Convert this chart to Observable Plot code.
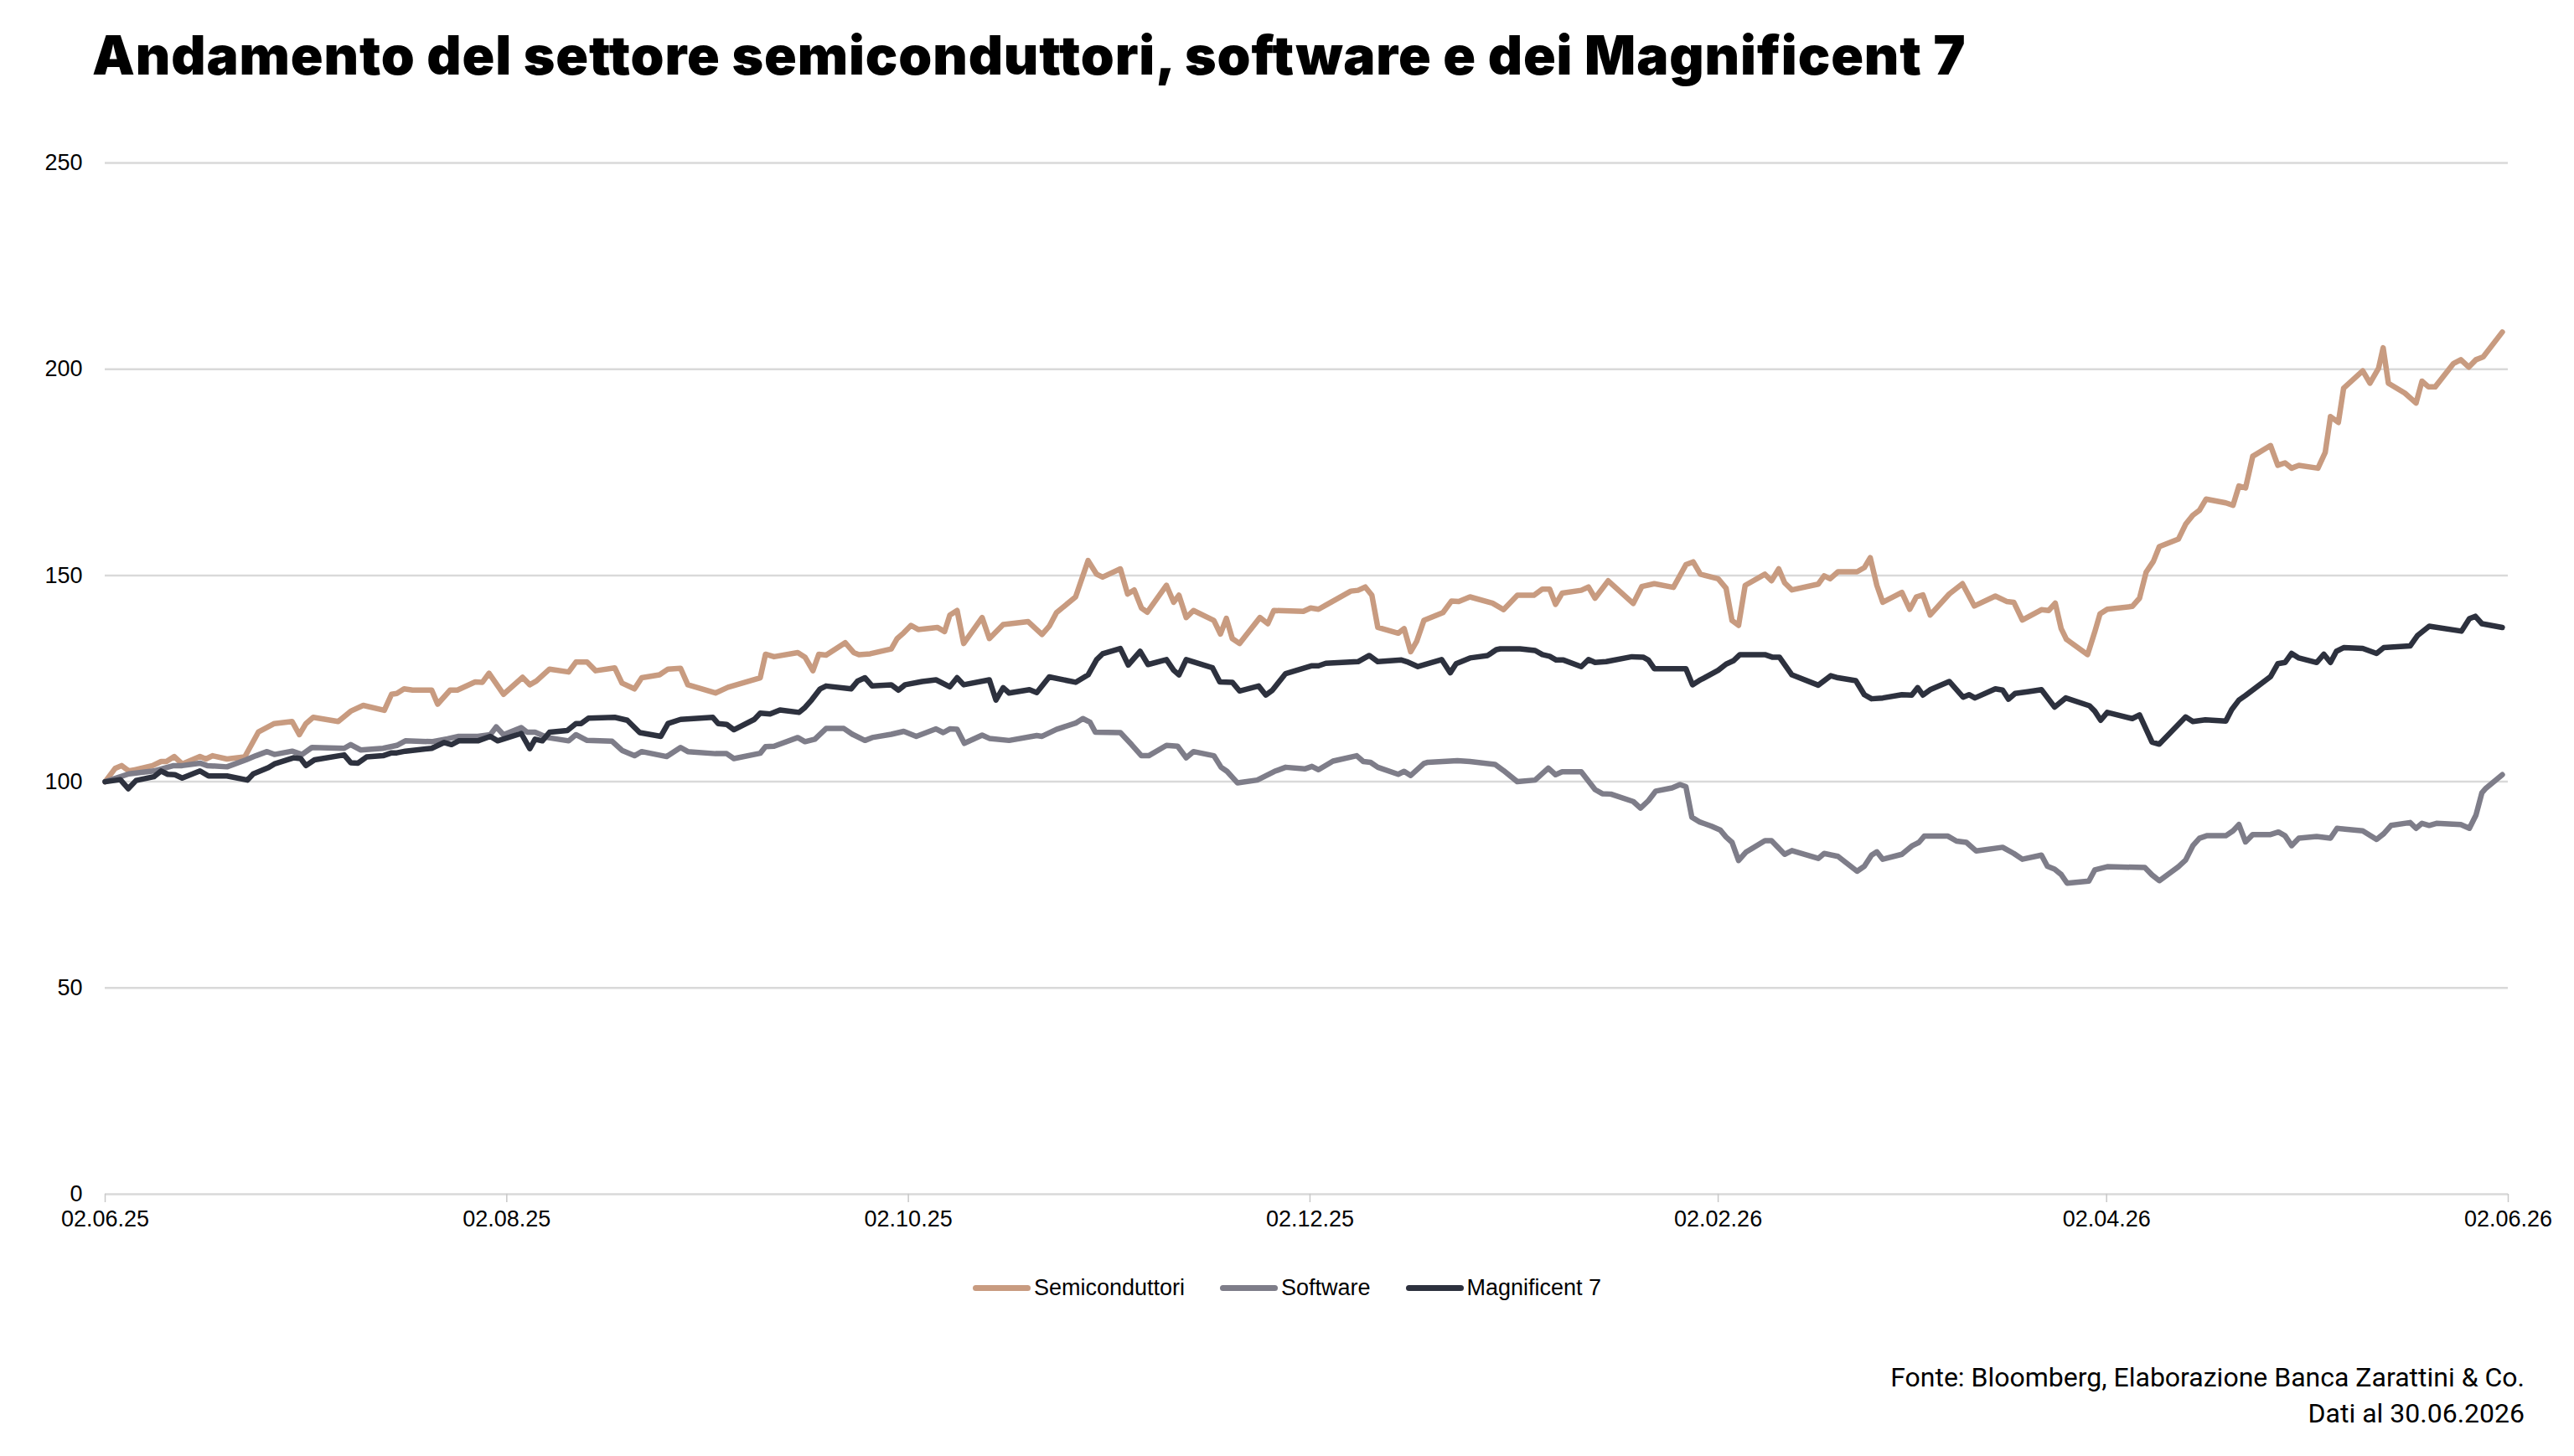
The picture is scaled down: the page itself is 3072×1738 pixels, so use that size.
<!DOCTYPE html>
<html>
<head>
<meta charset="utf-8">
<script src="https://cdn.jsdelivr.net/npm/d3@7"></script>
<script src="https://cdn.jsdelivr.net/npm/@observablehq/plot@0.6"></script>
<style>
  html, body { margin: 0; padding: 0; background: #fff; }
  #page { position: relative; width: 3072px; height: 1738px; overflow: hidden; background: #fff; }
  #title { position: absolute; left: 110px; top: 34px; font-family: Inter, "Liberation Sans", sans-serif; font-weight: 900; font-size: 64px; line-height: 1; color: #000; white-space: nowrap; letter-spacing: 0.9px; }
  #chart { position: absolute; left: 0; top: 0; }
  #legend { position: absolute; left: 0; top: 1517px; width: 3072px; height: 40px; display: flex; align-items: center; justify-content: center; font-family: "Liberation Sans", Arial, sans-serif; font-size: 27px; color: #000; }
  .item { display: flex; align-items: center; margin: 0 21px; }
  .sw { width: 69px; height: 7px; border-radius: 4px; margin-right: 4px; }
  #footer { position: absolute; right: 59px; top: 1623px; text-align: right; font-family: Roboto, "Liberation Sans", sans-serif; font-size: 32px; line-height: 43px; color: #000; }
</style>
</head>
<body>
<div id="page">
  <div id="chart"></div>
  <div id="title"></div>
  <div id="legend"></div>
  <div id="footer"></div>
</div>
<script>
const titleText = "Andamento del settore semiconduttori, software e dei Magnificent 7";
const footerLines = ["Fonte: Bloomberg, Elaborazione Banca Zarattini & Co.", "Dati al 30.06.2026"];
const seriesNames = ["Semiconduttori", "Software", "Magnificent 7"];
const seriesColors = ["#C89B80", "#7E7D89", "#2D313E"];
const startDate = "2025-06-02";
const endDate = "2026-06-02";
const xTickDates = ["2025-06-02", "2025-08-02", "2025-10-02", "2025-12-02", "2026-02-02", "2026-04-02", "2026-06-02"];
const yTicks = [0, 50, 100, 150, 200, 250];

// days elapsed since startDate, and index values (start = 100)
const semiDays = [0,1.5,2.5,3.6,4.5,7.2,8.5,9.3,10.5,11.7,14.4,15.3,16.3,18.5,21.2,23.3,25.7,28.4,29.5,30.5,31.6,35.4,37.3,39.2,42.4,43.5,44.3,45.4,46.7,49.6,50.5,52.4,53.5,56.2,57.3,58.3,60.5,63.4,
64.5,65.5,67.5,70.4,71.5,73.2,74.5,77.4,78.5,80.4,81.5,84.2,85.5,87.4,88.5,92.7,94.6,99.5,100.3,101.6,105.2,106.3,107.5,108.4,109.5,112.4,113.7,114.5,116.2,119.4,120.3,121.3,122.4,123.5,
126.4,127.5,128.3,129.4,130.4,133.2,134.3,136.4,140.2,142.3,143.4,144.5,147.4,149.3,150.6,151.5,154.2,155.3,156.3,157.4,158.3,161.2,162.3,163.1,164.2,165.3,168.4,169.4,170.3,171.2,172.3,175.4,176.6,177.5,182.0,183.1,184.3,185.4,
189.2,190.3,191.4,192.4,193.3,196.4,197.3,198.3,199.2,200.3,203.2,204.5,205.6,207.3,210.7,212.4,214.5,217.0,218.3,219.4,220.3,221.3,224.2,225.3,226.3,228.3,232.1,233.4,235.3,238.2,240.1,241.2,242.3,245.0,
246.2,247.1,248.1,249.1,252.1,253.1,254.2,255.1,256.2,260.2,261.1,262.0,263.2,266.1,267.2,268.1,269.1,270.0,272.9,274.1,275.1,276.1,277.2,280.1,282.1,283.9,287.1,288.8,289.9,291.2,294.1,295.2,296.2,297.1,297.9,301.1,
302.2,303.0,304.1,307.9,309.0,310.0,311.1,312.0,314.9,316.0,317.1,318.1,319.1,322.1,323.2,324.1,325.1,326.2,328.9,330.0,331.1,332.1,333.2,336.1,337.2,338.0,339.2,340.0,342.9,344.0,345.3,346.0,346.8,349.3,351.0,351.9,352.9,353.9,356.7,357.8,359.0,360.1,361.2,364.1];
const semiValues = [100,103.2,103.9,102.6,102.9,103.9,104.9,104.9,106.1,104.3,106.1,105.5,106.3,105.5,106.0,112.1,114.1,114.6,111.4,114.1,115.6,114.6,117.1,118.5,117.3,121.2,121.4,122.5,122.2,122.2,118.8,122.2,122.2,124.2,124.1,126.3,121.2,125.3,
123.5,124.4,127.3,126.6,129.0,129.0,126.9,127.6,123.9,122.5,125.2,125.9,127.3,127.5,123.5,121.5,122.9,125.2,130.9,130.3,131.3,130.2,126.9,130.9,130.7,133.7,131.3,130.8,131.0,132.2,134.7,136.1,137.9,136.9,
137.4,136.4,140.4,141.5,133.5,139.8,134.7,138.1,138.8,135.7,137.7,141.0,144.8,153.6,150.3,149.6,151.6,145.5,146.5,142.1,141.1,147.6,143.5,145.2,139.8,141.5,139.1,135.8,139.6,134.7,133.5,139.8,138.3,141.5,141.3,142.1,141.8,142.8,
146.2,146.4,147.2,145.2,137.4,136.0,137.1,131.5,134.0,139.1,141.0,143.8,143.7,144.8,143.3,141.7,145.2,145.2,146.7,146.7,143.0,145.7,146.4,147.2,144.5,148.7,143.2,147.3,148.0,147.1,152.6,153.3,150.3,149.2,
146.9,139.1,137.9,147.6,150.3,148.7,151.6,148.2,146.5,147.9,149.9,149.2,150.9,150.9,151.9,154.3,147.6,143.5,145.9,141.8,144.8,145.3,140.4,145.5,148.0,142.6,145.0,143.7,143.5,139.2,141.7,141.5,143.3,137.1,134.5,130.8,
136.3,140.7,141.8,142.5,144.5,150.8,153.4,157.0,158.8,162.4,164.6,165.8,168.5,167.6,167.0,171.7,171.2,178.9,181.5,176.7,177.3,176.0,176.7,176.0,179.8,188.5,187.1,195.4,199.6,196.6,200.2,205.2,196.6,194.2,191.8,197.1,195.7,195.7,201.4,202.3,200.5,202.3,203.0,209.0];

const softDays = [0,3.6,7.4,10.4,11.7,14.4,15.5,18.5,21.4,22.9,24.6,25.7,28.4,29.9,31.4,36.3,37.3,38.8,42.2,44.3,45.6,49.6,52.0,53.7,56.6,58.5,59.4,60.5,63.2,
64.1,65.3,67.2,70.4,71.5,73.2,77.0,78.5,80.4,81.5,85.3,87.4,88.5,92.7,94.4,95.5,99.5,100.3,101.6,105.2,106.3,107.8,109.5,112.2,113.5,115.4,116.5,119.4,121.3,123.2,
126.2,127.3,128.3,129.4,130.5,133.2,134.3,137.3,141.5,142.3,144.5,147.4,148.5,149.6,150.4,154.2,155.9,157.4,158.5,161.2,162.9,164.2,165.3,168.4,169.5,170.4,172.0,175.0,177.6,179.3,182.2,183.3,184.3,
186.5,190.1,191.1,192.2,193.3,196.4,197.3,198.3,200.3,200.9,205.4,207.3,211.1,212.4,214.5,217.2,219.2,220.3,221.3,224.2,226.3,227.4,228.7,232.1,233.2,234.4,235.5,238.0,239.2,240.1,241.0,242.1,244.0,245.3,
246.2,247.1,248.1,249.2,252.1,253.1,255.1,256.2,260.2,261.1,263.2,266.1,267.2,268.3,269.1,270.0,272.9,274.4,275.5,276.3,279.9,281.2,282.7,284.2,288.2,289.9,291.2,294.1,295.0,296.1,297.1,298.0,301.3,
302.2,304.1,309.8,310.9,312.0,314.9,316.0,317.1,318.1,319.2,322.1,323.2,324.1,325.1,326.2,328.9,330.1,331.1,332.1,333.2,335.9,338.0,339.0,340.2,342.9,345.0,346.1,347.2,350.1,351.0,351.9,353.0,354.1,357.8,359.1,360.1,361.0,361.6,364.1];
const softValues = [100,101.9,102.6,103.9,103.9,104.5,103.9,103.6,105.3,106.3,107.3,106.6,107.4,106.6,108.3,108.1,109.0,107.7,108.1,108.8,109.9,109.7,110.4,111.0,111.0,111.4,113.3,111.4,113.1,
112.0,112.0,110.7,109.9,111.4,110.0,109.8,107.6,106.3,107.3,106.1,108.3,107.3,106.8,106.8,105.6,106.9,108.5,108.6,110.7,109.7,110.3,112.9,112.9,111.5,110.0,110.7,111.5,112.2,111.0,
112.8,111.9,112.8,112.7,109.3,111.3,110.5,110.0,111.2,111.0,112.7,114.2,115.3,114.4,112.0,111.9,109.0,106.3,106.3,108.8,108.6,105.8,107.3,106.3,103.5,102.5,99.7,100.4,102.5,103.5,103.1,103.7,102.9,
105.0,106.3,104.9,104.7,103.5,101.8,102.5,101.5,104.4,104.7,105.1,104.9,104.2,102.7,100.0,100.4,103.3,101.7,102.4,102.4,98.1,97.1,97.0,95.2,93.6,95.4,97.7,98.5,99.3,98.8,91.4,90.3,89.2,88.3,
86.6,85.3,80.9,82.9,85.7,85.7,82.4,83.3,81.4,82.6,81.9,78.3,79.5,82.2,83.0,81.2,82.4,84.4,85.3,86.8,86.8,85.6,85.3,83.2,84.1,82.6,81.2,82.2,79.5,78.8,77.5,75.4,75.9,
78.6,79.4,79.2,77.4,76.0,79.4,81.0,84.5,86.3,86.9,86.9,88.1,89.6,85.4,87.2,87.2,87.8,86.9,84.5,86.3,86.7,86.3,88.7,88.5,88.1,86.0,87.4,89.4,90.1,88.7,89.9,89.4,89.9,89.6,88.7,91.9,97.3,98.4,101.7];

const magDays = [0,2.3,3.5,4.7,7.4,8.5,9.5,10.6,11.7,14.4,15.7,18.5,21.6,22.5,24.8,25.7,28.6,29.7,30.5,31.8,36.3,37.3,38.4,39.7,42.2,43.5,44.3,45.6,49.6,51.5,52.6,53.7,56.6,58.5,59.6,63.2,
64.5,65.3,66.4,67.5,70.2,71.5,72.3,73.4,77.4,79.3,81.2,84.4,85.5,87.4,92.3,93.1,94.4,95.5,98.6,99.5,101.0,102.5,105.4,106.3,107.3,108.6,109.5,113.3,114.3,115.4,116.5,119.4,120.5,121.5,
124.1,126.2,128.3,129.4,130.4,134.3,135.3,136.4,137.3,140.4,141.5,143.4,147.4,149.3,150.6,151.5,154.2,155.4,157.2,158.4,161.2,162.3,163.1,164.2,168.2,169.3,171.2,172.3,175.2,176.3,177.3,179.3,183.3,184.3,
185.4,190.3,192.0,193.3,196.9,197.7,199.4,203.0,204.3,205.2,207.3,210.0,211.3,211.9,214.9,217.2,218.3,219.4,220.4,221.5,224.2,225.3,226.3,228.0,231.9,233.6,234.4,235.3,240.1,241.1,242.1,245.0,
246.2,247.3,248.3,252.1,253.2,254.3,256.2,260.2,262.1,263.2,265.9,267.2,268.3,270.0,272.9,274.4,275.3,276.1,277.2,280.1,282.2,283.1,284.0,287.1,288.2,289.1,290.1,292.0,294.1,296.1,297.8,301.4,
302.2,303.1,304.1,307.9,309.0,310.9,312.0,316.0,317.1,319.0,322.1,323.0,324.1,325.1,327.0,328.9,330.0,331.1,332.1,333.2,335.9,337.0,338.0,338.9,340.0,342.9,345.0,346.1,350.1,351.2,353.0,357.9,359.1,360.0,361.0,364.1];
const magValues = [100,100.5,98.3,100.3,101.2,102.6,101.8,101.7,100.9,102.6,101.4,101.4,100.4,101.9,103.4,104.3,105.8,105.6,103.9,105.3,106.5,104.6,104.5,106.0,106.3,107.0,107.0,107.4,108.1,109.5,109.0,109.9,109.9,111.0,109.9,111.7,
108.0,110.3,109.9,112.0,112.4,114.1,114.1,115.4,115.6,114.9,111.9,111.0,114.1,115.1,115.6,114.1,113.9,112.6,115.1,116.6,116.4,117.4,116.8,118.0,119.8,122.5,123.2,122.5,124.4,125.2,123.2,123.5,122.2,123.5,
124.3,124.7,123.0,125.2,123.5,124.7,119.8,122.8,121.5,122.3,121.6,125.4,124.1,125.9,129.6,131.0,132.3,128.3,131.6,128.4,129.6,127.0,125.9,129.6,127.6,124.2,124.1,122.0,123.2,121.0,122.2,126.2,128.1,128.1,
128.7,129.1,130.6,129.1,129.5,129.1,127.9,129.6,126.4,128.6,130.0,130.6,132.0,132.2,132.2,131.8,130.8,130.4,129.5,129.5,127.9,129.6,128.9,129.1,130.3,130.2,129.5,127.4,127.4,123.5,124.5,127.0,
128.5,129.3,130.8,130.8,130.2,130.2,125.9,123.4,125.7,125.2,124.5,121.1,120.1,120.3,121.1,121.0,122.8,121.0,122.3,124.3,120.5,121.1,120.3,122.5,122.2,120.0,121.4,121.8,122.3,118.1,120.3,118.4,
117.1,114.9,116.8,115.3,116.2,109.6,109.1,115.7,114.6,115.0,114.7,117.5,119.8,120.9,123.2,125.5,128.6,128.9,131.1,130.0,128.9,130.9,128.9,131.6,132.5,132.3,131.1,132.5,132.9,135.4,137.7,136.5,139.5,140.1,138.3,137.4];

const seriesDays = [semiDays, softDays, magDays];
const seriesValues = [semiValues, softValues, magValues];

const t0 = new Date(startDate).getTime();
const rows = [];
seriesNames.forEach((name, s) => {
  seriesDays[s].forEach((d, i) => {
    rows.push({ series: name, date: new Date(t0 + d * 86400000), value: seriesValues[s][i] });
  });
});

const chart = Plot.plot({
  width: 3072,
  height: 1480,
  marginLeft: 125,
  marginRight: 79,
  marginTop: 194,
  marginBottom: 55,
  style: { fontFamily: "'Liberation Sans', Arial, sans-serif", fontSize: "27px", color: "#000", background: "transparent" },
  x: { type: "utc", domain: [new Date(startDate), new Date(endDate)] },
  y: { domain: [0, 250] },
  color: { domain: seriesNames, range: seriesColors },
  marks: [
    Plot.gridY(yTicks, { stroke: "#d9d9d9", strokeOpacity: 1, strokeWidth: 2.5 }),
    Plot.axisY(yTicks, { tickSize: 0, tickPadding: 27, label: null, fill: "#000" }),
    Plot.axisX(xTickDates.map(d => new Date(d)), { tickSize: 10, tickPadding: 9, stroke: "#c8c8c8", strokeWidth: 1.5, tickFormat: d3.utcFormat("%d.%m.%y"), label: null, fill: "#000" }),
    Plot.lineY(rows, { x: "date", y: "value", z: "series", stroke: "series", strokeWidth: 6.5, strokeLinejoin: "round", strokeLinecap: "round" })
  ]
});
document.getElementById("chart").appendChild(chart);

document.getElementById("title").textContent = titleText;

const legend = document.getElementById("legend");
seriesNames.forEach((name, i) => {
  const item = document.createElement("div");
  item.className = "item";
  const sw = document.createElement("div");
  sw.className = "sw";
  sw.style.background = seriesColors[i];
  const label = document.createElement("span");
  label.textContent = name;
  item.appendChild(sw);
  item.appendChild(label);
  legend.appendChild(item);
});

const footer = document.getElementById("footer");
footerLines.forEach(line => {
  const div = document.createElement("div");
  div.textContent = line;
  footer.appendChild(div);
});
</script>
</body>
</html>
